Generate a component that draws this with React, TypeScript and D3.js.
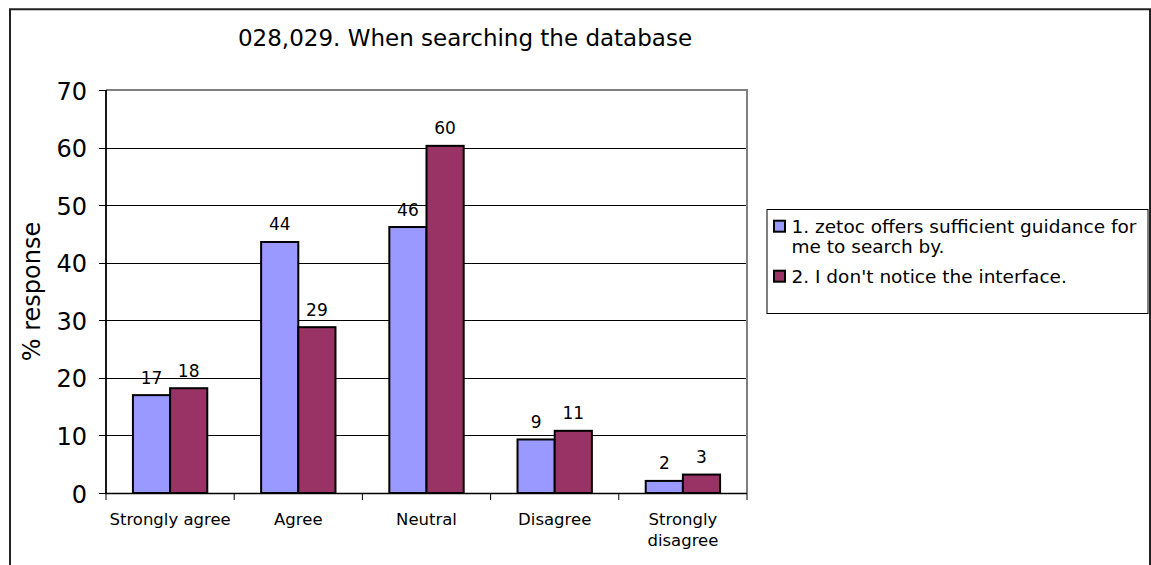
import React from "react";
import * as d3 from "d3";

const categories = ["Strongly agree", "Agree", "Neutral", "Disagree", "Strongly disagree"];
const seriesNames = ["1. zetoc offers sufficient guidance for me to search by.", "2. I don't notice the interface."];
const series1 = [17, 43.6, 46.2, 9.3, 2.1];
const series2 = [18.2, 28.8, 60.3, 10.8, 3.2];
const yTicks = [0, 10, 20, 30, 40, 50, 60, 70];
const title = "028,029. When searching the database";
const yLabel = "% response";
const colors = ["#9999FF", "#993366"];

const FONT = "DejaVu Sans, Verdana, sans-serif";

export default function App() {
  const W = 1151, H = 565;
  const left = 106, right = 747, top = 90, bottom = 493;
  const x = d3.scaleBand<string>().domain(categories).range([left, right]).paddingInner(0).paddingOuter(0);
  const y = d3.scaleLinear().domain([0, 70]).range([bottom, top]);
  const bw = x.bandwidth();
  const barW = bw * 0.29;
  const data = [series1, series2];
  const xLabelLines = [["Strongly agree"], ["Agree"], ["Neutral"], ["Disagree"], ["Strongly", "disagree"]];
  const legendLines = [["1. zetoc offers sufficient guidance for", "me to search by."], ["2. I don't notice the interface."]];
  return (
    <svg width={W} height={H} style={{ position: "absolute", left: 0, top: 0 }} fontFamily={FONT}>
      <rect x={0} y={0} width={W} height={H} fill="#fff" />
      {/* outer frame */}
      <path d={`M10,${H + 5} V9.3 H1150 V${H + 5}`} fill="none" stroke="#222" strokeWidth={2} />
      <text x={465} y={46} textAnchor="middle" fontSize={23} fill="#000">{title}</text>
      {/* gridlines */}
      {yTicks.filter(t => t > 0 && t < 70).map(t => (
        <line key={t} x1={left} x2={right} y1={Math.round(y(t)) + 0.5} y2={Math.round(y(t)) + 0.5} stroke="#000" strokeWidth={1} />
      ))}
      {/* top and right border */}
      <line x1={left} x2={right + 1} y1={y(70)} y2={y(70)} stroke="#808080" strokeWidth={2} />
      <line x1={right} x2={right} y1={top} y2={bottom} stroke="#808080" strokeWidth={2} />
      {/* bars */}
      {categories.map((c, i) => {
        const cx = (x(c) as number) + bw / 2;
        return data.map((s, k) => {
          const bx = cx - barW + k * barW;
          return (
            <g key={c + k}>
              <rect x={bx} y={y(s[i])} width={barW} height={y(0) - y(s[i])} fill={colors[k]} stroke="#000" strokeWidth={2} />
              <text x={bx + barW / 2} y={y(s[i]) - 11.5} textAnchor="middle" fontSize={17} fill="#000">{Math.round(s[i])}</text>
            </g>
          );
        });
      })}
      {/* axes */}
      <line x1={left} x2={left} y1={top} y2={bottom + 1} stroke="#000" strokeWidth={1.8} />
      <line x1={left - 1} x2={right} y1={bottom + 0.5} y2={bottom + 0.5} stroke="#000" strokeWidth={1.5} />
      {yTicks.map(t => (
        <g key={t}>
          <line x1={left - 7} x2={left} y1={Math.round(y(t)) + 0.5} y2={Math.round(y(t)) + 0.5} stroke="#000" />
          <text x={87} y={y(t) + 9.5} textAnchor="end" fontSize={24} fill="#000">{t}</text>
        </g>
      ))}
      {[...categories.map(c => x(c) as number), right].map((tx, i) => (
        <line key={i} x1={tx} x2={tx} y1={bottom} y2={bottom + 7} stroke="#000" />
      ))}
      {categories.map((c, i) => (
        <text key={c} x={(x(c) as number) + bw / 2} y={525} textAnchor="middle" fontSize={16.5} fill="#000">
          {xLabelLines[i].map((l, j) => (
            <tspan key={j} x={(x(c) as number) + bw / 2} dy={j === 0 ? 0 : 21}>{l}</tspan>
          ))}
        </text>
      ))}
      <text transform={`translate(40,291.5) rotate(-90)`} textAnchor="middle" fontSize={24} fill="#000">{yLabel}</text>
      {/* legend */}
      <rect x={767} y={209.5} width={381} height={104} fill="#fff" stroke="#000" strokeWidth={1} />
      {legendLines.map((lines, k) => {
        const baseY = k === 0 ? 232.7 : 282.7;
        return (
          <g key={k}>
            <rect x={774} y={baseY - 12} width={11} height={11} fill={colors[k]} stroke="#000" strokeWidth={2} />
            <text x={791.5} y={baseY} fontSize={18.5} fill="#000">
              {lines.map((l, j) => (
                <tspan key={j} x={791.5} dy={j === 0 ? 0 : 20.6}>{l}</tspan>
              ))}
            </text>
          </g>
        );
      })}
    </svg>
  );
}
